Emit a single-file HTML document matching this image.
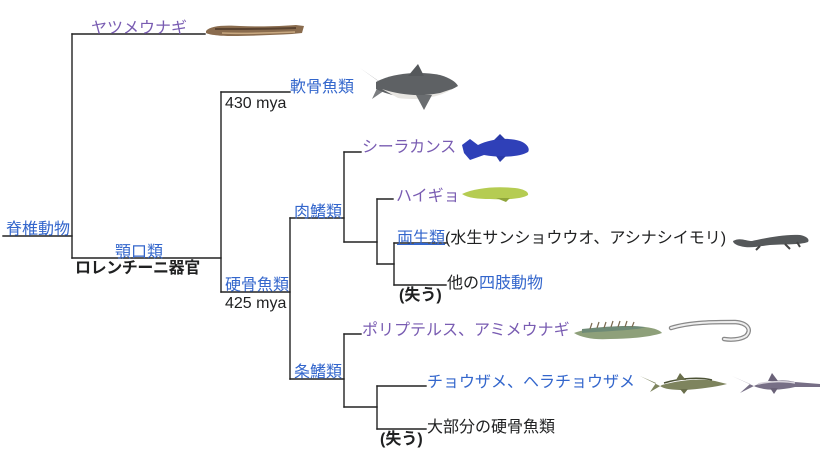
<!DOCTYPE html>
<html><head><meta charset="utf-8">
<style>
html,body{margin:0;padding:0;background:#fff;}
#c{position:relative;width:827px;height:458px;overflow:hidden;font-family:"Liberation Sans","Noto Sans CJK JP",sans-serif;font-size:16px;line-height:16px;}
.t{position:absolute;white-space:nowrap;color:#202122;}
.b{color:#3366cc;}
.p{color:#795cb2;}
.k{color:#202122;}
.bold{font-weight:bold;}
svg{position:absolute;left:0;top:0;}
</style></head><body>
<div id="c">
<svg width="827" height="458" viewBox="0 0 827 458">
<g stroke="#222" stroke-width="1.4" fill="none" stroke-linecap="square">
<line x1="3" y1="236" x2="72" y2="236"/>
<line x1="72" y1="34" x2="72" y2="258"/>
<line x1="72" y1="34" x2="205" y2="34"/>
<line x1="72" y1="258" x2="221" y2="258"/>
<line x1="221" y1="92" x2="221" y2="292"/>
<line x1="221" y1="92" x2="290" y2="92"/>
<line x1="221" y1="292" x2="290" y2="292"/>
<line x1="290" y1="218" x2="290" y2="379"/>
<line x1="290" y1="218" x2="344" y2="218"/>
<line x1="290" y1="379" x2="344" y2="379"/>
<line x1="344" y1="152" x2="344" y2="242"/>
<line x1="344" y1="152" x2="361" y2="152"/>
<line x1="344" y1="242" x2="377" y2="242"/>
<line x1="377" y1="199" x2="377" y2="264"/>
<line x1="377" y1="199" x2="393" y2="199"/>
<line x1="377" y1="264" x2="394" y2="264"/>
<line x1="394" y1="243" x2="394" y2="285"/>
<line x1="394" y1="243" x2="446" y2="243"/>
<line x1="394" y1="285" x2="446" y2="285"/>
<line x1="344" y1="334" x2="344" y2="407"/>
<line x1="344" y1="334" x2="361" y2="334"/>
<line x1="344" y1="407" x2="377" y2="407"/>
<line x1="377" y1="386" x2="377" y2="429"/>
<line x1="377" y1="386" x2="426" y2="386"/>
<line x1="377" y1="429" x2="426" y2="429"/>
</g>
<!-- lamprey -->
<path d="M206,31 C210,26 222,25 240,26 C262,27 282,26 296,25 L304,26 L302,33 L292,34 C272,35 250,36 232,36 C220,36 210,35 206,33 Z" fill="#8a6c4e"/>
<path d="M215,29 C240,29 270,29 296,28" stroke="#5a4330" stroke-width="2" fill="none"/>
<path d="M222,33 C245,34 270,33 295,32" stroke="#c8a880" stroke-width="1.5" fill="none"/>
<!-- shark -->
<path d="M360,68 L380,82 L372,99 L388,88 Z" fill="#7b7d80"/>
<path d="M376,82 C392,73 420,71 440,75 C450,78 456,82 458,86 C450,91 440,94 428,96 C410,99 392,97 376,89 Z" fill="#5e6164"/>
<path d="M382,89 C400,95 420,97 440,93 L452,89 C440,97 420,101 398,98 Z" fill="#e8e6e2"/>
<path d="M408,76 L418,64 L424,76 Z" fill="#55585b"/>
<path d="M416,95 L424,110 L432,95 Z" fill="#6a6d70"/>
<!-- coelacanth -->
<path d="M462,145 L470,139 L478,145 C490,139 508,137 520,141 C528,144 530,149 528,152 C520,157 500,158 484,155 L470,160 L464,153 Z" fill="#2f40b8"/>
<path d="M494,140 L500,134 L506,140 Z M496,156 L500,162 L506,156 Z" fill="#2a3aa8"/>
<!-- lungfish -->
<path d="M462,194 C475,188 495,186 515,188 C524,189 529,192 528,195 C522,199 505,200 490,199 C478,199 468,198 462,194 Z" fill="#b5cc52"/>
<path d="M496,198 L506,202 L510,198 Z" fill="#8fa53a"/>
<!-- salamander -->
<path d="M733,241 C740,237 746,241 752,241 C765,238 785,234 800,235 C806,236 810,239 808,242 C800,245 785,244 770,245 C760,246 750,249 740,246 C736,245 733,243 733,241 Z" fill="#55585a"/>
<path d="M785,244 L790,249 M760,246 L756,250 M797,242 L800,247" stroke="#444" stroke-width="2"/>
<!-- bichir -->
<path d="M574,333 C590,327 620,326 645,327 C655,328 661,331 662,333 C650,337 630,339 610,339 C595,340 582,338 574,333 Z" fill="#8ea07a"/>
<path d="M582,329 C610,326 630,325 645,327 C640,330 610,331 582,333 Z" fill="#6e8a76"/>
<g stroke="#7a6a50" stroke-width="1.2">
<line x1="590" y1="329" x2="592" y2="323"/><line x1="597" y1="328" x2="599" y2="322"/><line x1="604" y1="328" x2="606" y2="322"/><line x1="611" y1="327" x2="613" y2="321"/><line x1="618" y1="327" x2="620" y2="321"/><line x1="625" y1="327" x2="627" y2="321"/><line x1="632" y1="327" x2="634" y2="322"/>
</g>
<!-- reedfish -->
<path d="M671,328 C690,322 715,322 735,322 C748,323 752,330 746,336 C740,340 730,340 724,339" stroke="#888" stroke-width="4.5" fill="none" stroke-linecap="round"/>
<path d="M671,328 C690,322 715,322 735,322 C748,323 752,330 746,336 C740,340 730,340 724,339" stroke="#eee" stroke-width="2" fill="none" stroke-linecap="round"/>
<!-- sturgeon -->
<path d="M640,376 L656,383 L650,392 L662,385 C680,380 700,378 715,381 L727,384 C715,387 700,389 684,390 C672,390 664,389 660,386 Z" fill="#7e845e"/>
<path d="M664,383 C680,378 700,377 712,380" stroke="#4c5236" stroke-width="1.5" fill="none"/>
<path d="M676,380 L680,373 L686,380 Z M680,389 L684,394 L688,389 Z" fill="#6a6f4c"/>
<!-- paddlefish -->
<path d="M732,376 L750,384 L740,393 L756,385 C770,380 785,379 795,382 L820,384 L820,387 L795,387 C782,390 768,391 756,387 Z" fill="#776f86"/>
<path d="M758,384 C770,381 785,381 795,383" stroke="#d8d4dc" stroke-width="1.5" fill="none"/>
<path d="M768,381 L772,373 L778,381 Z M770,388 L774,394 L778,388 Z" fill="#6a6278"/>
</svg>

<div class="t p" style="left:91px;top:20.5px;">ヤツメウナギ</div>
<div class="t b" style="left:290px;top:79.5px;">軟骨魚類</div>
<div class="t k" style="left:225px;top:95.5px;">430 mya</div>
<div class="t b" style="left:6px;top:222px;">脊椎動物</div>
<div class="t b" style="left:115px;top:244.5px;">顎口類</div>
<div class="t k bold" style="left:75px;top:261px;letter-spacing:-0.4px;">ロレンチーニ器官</div>
<div class="t b" style="left:225px;top:278px;">硬骨魚類</div>
<div class="t k" style="left:225px;top:295.5px;">425 mya</div>
<div class="t b" style="left:294px;top:205px;">肉鰭類</div>
<div class="t p" style="left:362px;top:139.5px;letter-spacing:-0.3px;">シーラカンス</div>
<div class="t p" style="left:396px;top:188.5px;">ハイギョ</div>
<div class="t" style="left:397px;top:231px;"><span class="b" style="text-decoration:underline;">両生類</span><span class="k">(水生サンショウウオ、アシナシイモリ)</span></div>
<div class="t" style="left:447px;top:276px;"><span class="k">他の</span><span class="b">四肢動物</span></div>
<div class="t k bold" style="left:399px;top:288px;">(失う)</div>
<div class="t p" style="left:362px;top:323px;">ポリプテルス、アミメウナギ</div>
<div class="t b" style="left:294px;top:365px;">条鰭類</div>
<div class="t b" style="left:427px;top:375px;">チョウザメ、ヘラチョウザメ</div>
<div class="t k" style="left:427px;top:420px;">大部分の硬骨魚類</div>
<div class="t k bold" style="left:380px;top:432px;">(失う)</div>
</div>
</body></html>
